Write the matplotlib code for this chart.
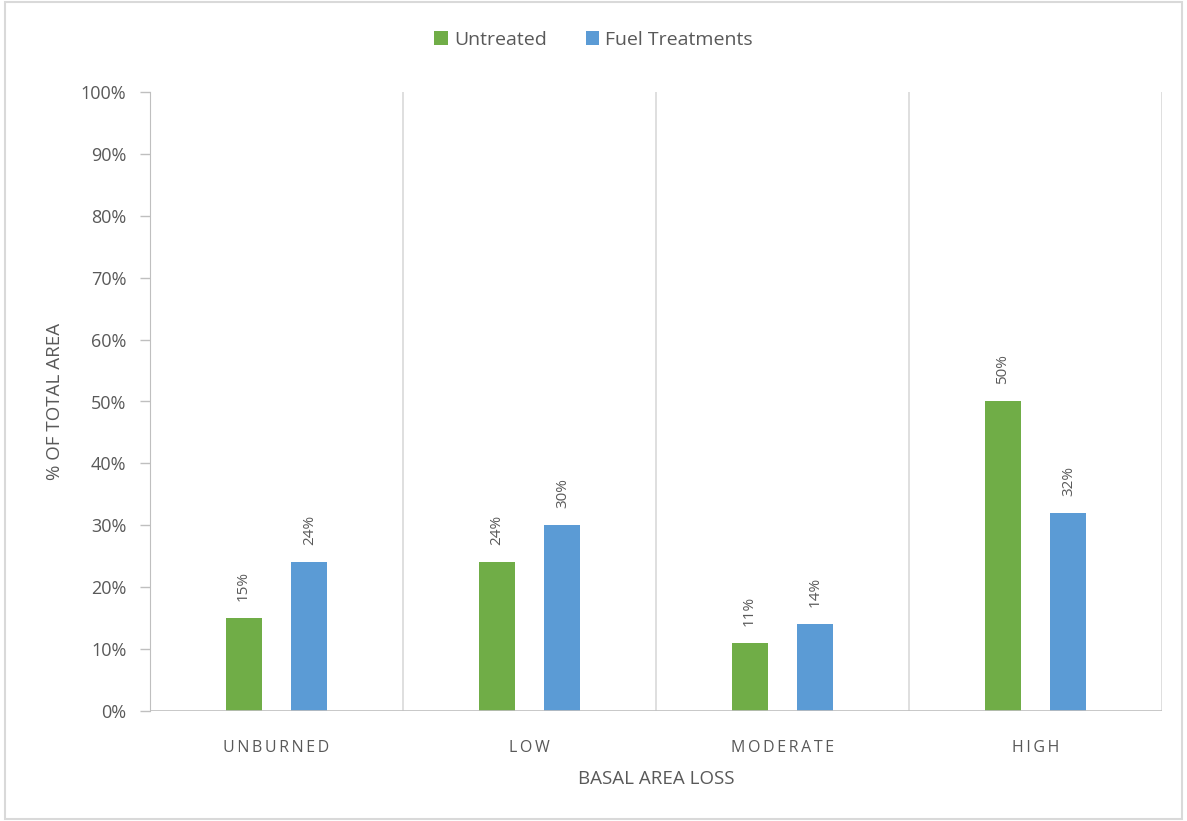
import matplotlib
matplotlib.use("Agg")
import matplotlib.pyplot as plt
import numpy as np
from matplotlib.patches import Rectangle

categories = ["UNBURNED", "LOW", "MODERATE", "HIGH"]
series_names = ["Untreated", "Fuel Treatments"]
untreated = [15, 24, 11, 50]
treated = [24, 30, 14, 32]
yticks = [0, 10, 20, 30, 40, 50, 60, 70, 80, 90, 100]

GREEN = "#70AD47"
BLUE = "#5B9BD5"
TXT = "#595959"
GRID = "#D9D9D9"

plt.rcParams['font.family'] = ['Open Sans', 'DejaVu Sans']

fig = plt.figure(figsize=(11.87, 8.21), dpi=100)
fig.patches.append(Rectangle((0.004, 0.003), 0.992, 0.994, transform=fig.transFigure,
                             fill=False, edgecolor=GRID, linewidth=1.5))
ax = fig.add_axes([150/1187, 1-711/821, (1162-150)/1187, (711-92)/821])

x = np.arange(len(categories))
off = 0.13
w = 0.142
b1 = ax.bar(x - off, untreated, w, color=GREEN, label=series_names[0], zorder=3)
b2 = ax.bar(x + off, treated, w, color=BLUE, label=series_names[1], zorder=3)

for bars, vals in ((b1, untreated), (b2, treated)):
    for r, v in zip(bars, vals):
        ax.text(r.get_x() + r.get_width()/2, v + 2.8, f"{v}%", rotation=90,
                ha="center", va="bottom", fontsize=11, color=TXT)

ax.set_xlim(-0.5, 3.5)
ax.set_ylim(0, 100)
ax.set_yticks(yticks)
ax.set_yticklabels([f"{t}%" for t in yticks], fontsize=13, color=TXT)
ax.set_xticks(x)
ax.set_xticklabels(["\u2009".join(c) for c in categories], fontsize=11.5, color=TXT)
ax.tick_params(axis="x", length=0, pad=21)
ax.tick_params(axis="y", length=7, color="#BFBFBF", width=1, pad=10)

for b in [0.5, 1.5, 2.5, 3.5]:
    ax.axvline(b, color=GRID, linewidth=1.2, zorder=1)

for s in ["top", "right", "bottom"]:
    ax.spines[s].set_visible(False)
ax.spines["left"].set_color("#BFBFBF")
ax.axhline(0, color="#BFBFBF", linewidth=1.2, zorder=4)

ax.set_ylabel("% OF TOTAL AREA", fontsize=13.5, color=TXT, labelpad=12)
ax.set_xlabel("BASAL AREA LOSS", fontsize=13.5, color=TXT, labelpad=10)

fig.legend(handles=[b1, b2], loc="center", bbox_to_anchor=(0.5, 1-40/821), ncol=2,
           frameon=False, fontsize=14, labelcolor=TXT, handlelength=0.7, handleheight=0.7,
           columnspacing=2.0, handletextpad=0.3)

fig.savefig("out.png", dpi=100)
